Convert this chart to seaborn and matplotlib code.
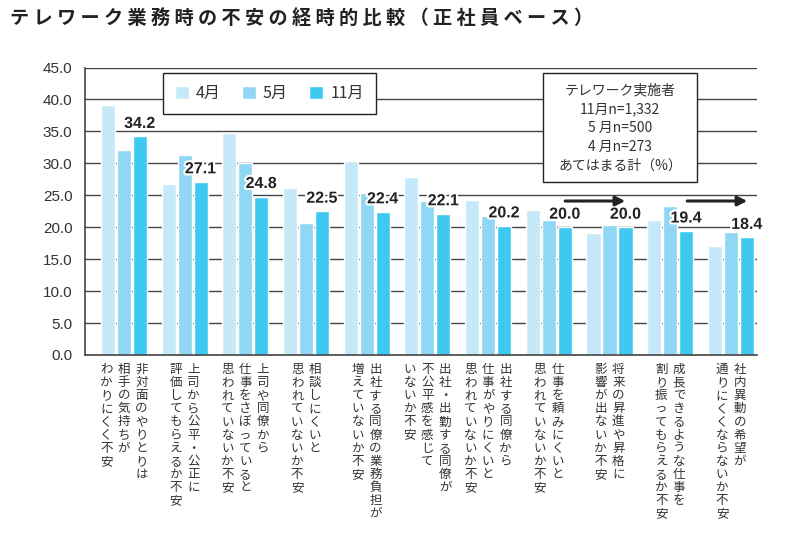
import numpy as np
import pandas as pd
import matplotlib
matplotlib.use("Agg")
import matplotlib.pyplot as plt
import matplotlib.patheffects as pe
from matplotlib.patches import Rectangle
import seaborn as sns

title = "テレワーク業務時の不安の経時的比較（正社員ベース）"

# each category label is written vertically, columns read right to left
labels = [
    ["非対面のやりとりは", "相手の気持ちが", "わかりにくく不安"],
    ["上司から公平・公正に", "評価してもらえるか不安"],
    ["上司や同僚から", "仕事をさぼっていると", "思われていないか不安"],
    ["相談しにくいと", "思われていないか不安"],
    ["出社する同僚の業務負担が", "増えていないか不安"],
    ["出社・出勤する同僚が", "不公平感を感じて", "いないか不安"],
    ["出社する同僚から", "仕事がやりにくいと", "思われていないか不安"],
    ["仕事を頼みにくいと", "思われていないか不安"],
    ["将来の昇進や昇格に", "影響が出ないか不安"],
    ["成長できるような仕事を", "割り振ってもらえるか不安"],
    ["社内異動の希望が", "通りにくくならないか不安"],
]
months = ["4月", "5月", "11月"]
apr = [39.1, 26.7, 34.7, 26.2, 30.4, 27.8, 24.3, 22.7, 19.1, 21.2, 17.1]
may = [32.1, 31.3, 30.1, 20.7, 25.4, 24.1, 21.8, 21.1, 20.3, 23.4, 19.3]
nov = [34.2, 27.1, 24.8, 22.5, 22.4, 22.1, 20.2, 20.0, 20.0, 19.4, 18.4]
colors = ["#c6e9f9", "#8fd7f5", "#3ec9f1"]
note = ["テレワーク実施者", "11月n=1,332", "5 月n=500", "4 月n=273", "あてはまる計（%）"]

items = ["".join(cols) for cols in labels]
df = pd.DataFrame({
    "item": items * 3,
    "month": [m for m in months for _ in items],
    "value": apr + may + nov,
})

sns.set_style("white")
plt.rcParams["font.family"] = ["Noto Sans CJK JP", "DejaVu Sans"]
num_font = ["Liberation Sans", "DejaVu Sans"]
text_color = "#333333"
line_color = "#444444"

fig = plt.figure(figsize=(8, 5.48), dpi=100)
ax = fig.add_axes([85 / 800, 1 - 355 / 548, 672 / 800, 287.5 / 548])

sns.barplot(data=df, x="item", y="value", hue="month", order=items,
            hue_order=months, palette=colors, saturation=1,
            width=0.79, gap=0.12, ax=ax)

ax.set_xlim(-0.64, 10.43)
ax.set_ylim(0, 45)
ax.set_yticks(np.arange(0, 46, 5))
ax.set_yticklabels([f"{v:.1f}" for v in np.arange(0, 46, 5)],
                   family=num_font, color=text_color)
ax.tick_params(axis="y", length=0, pad=9, labelsize=11)
ax.tick_params(axis="x", length=0, labelbottom=False)
ax.set_xlabel("")
ax.set_ylabel("")
ax.yaxis.grid(True, color=line_color, lw=1)
ax.set_axisbelow(True)
for side in ["top", "right"]:
    ax.spines[side].set_visible(False)
for side in ["left", "bottom"]:
    ax.spines[side].set_color(line_color)
    ax.spines[side].set_linewidth(1.2)

# value labels on the November bars
ax.bar_label(ax.containers[2], fmt="%.1f", padding=4, fontsize=11.5,
             fontweight="bold", family=num_font, color="#222222",
             path_effects=[pe.withStroke(linewidth=3, foreground="white")])

# vertical category labels
trans = ax.get_xaxis_transform()
col_step = 0.29
for i, cols in enumerate(labels):
    n = len(cols)
    for j, col in enumerate(cols):
        x = i + (n - 1) / 2 * col_step - j * col_step
        ax.text(x, -0.028, "\n".join(col), transform=trans, ha="center",
                va="top", fontsize=9, linespacing=1.01, color=text_color)

# arrows
for x0, x1 in [(7.27, 8.26), (9.28, 10.27)]:
    ax.annotate("", xy=(x1, 24.1), xytext=(x0, 24.1),
                arrowprops=dict(arrowstyle="-|>", lw=2.2, color="#222222",
                                mutation_scale=14, shrinkA=0, shrinkB=0))

# legend
handles, _ = ax.get_legend_handles_labels()
leg = ax.legend(handles, months, loc="upper left", bbox_to_anchor=(0.116, 0.981),
                ncol=3, frameon=True, fancybox=False, fontsize=11.5,
                handlelength=0.85, handleheight=0.85, handletextpad=0.45,
                columnspacing=1.35, borderpad=0.75, borderaxespad=0)
leg.get_frame().set_edgecolor("#222222")
leg.get_frame().set_linewidth(1)
leg.get_frame().set_alpha(1)
for t in leg.get_texts():
    t.set_color(text_color)

# note box
ax.add_patch(Rectangle((0.6815, 0.602), 0.229, 0.379, transform=ax.transAxes,
                       facecolor="white", edgecolor="#222222", lw=1, zorder=5))
ax.text(0.796, 0.789, "\n".join(note), transform=ax.transAxes, ha="center",
        va="center", fontsize=10, linespacing=1.43, color=text_color, zorder=6)

fig.text(0.012, 0.967, " ".join(title), fontsize=13.8, fontweight="bold",
         va="center", ha="left", color="#222222")

fig.savefig("out.png", dpi=100)
